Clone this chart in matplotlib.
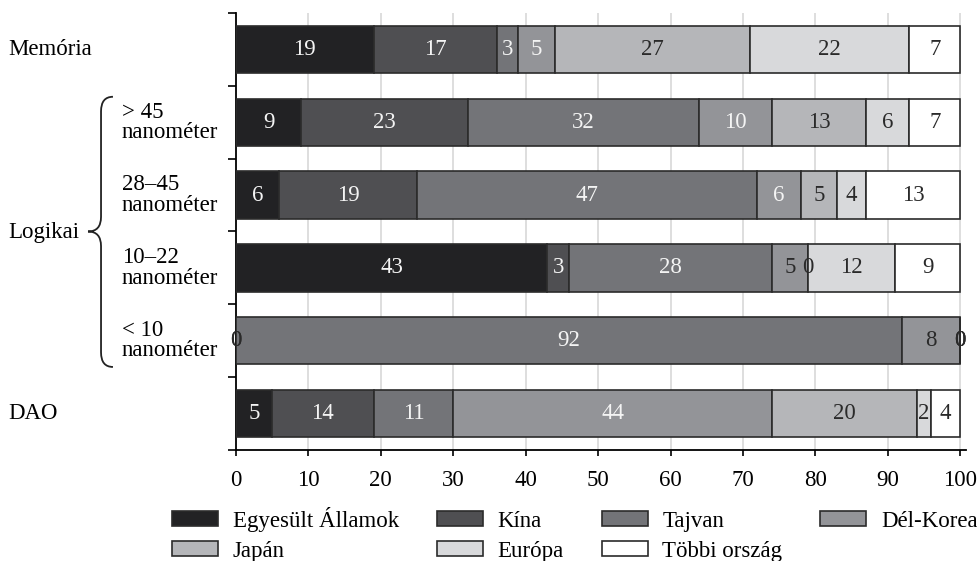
import matplotlib.pyplot as plt
import matplotlib.transforms as mtransforms
from matplotlib.path import Path
from matplotlib.patches import PathPatch

plt.rcParams['font.family'] = ['Liberation Serif', 'DejaVu Serif']
FS = 16.5

# Adatok: sorok (felülről lefelé) és országok szerinti részesedés (%)
rows = ['Memória', '> 45\nnanométer', '28–45\nnanométer', '10–22\nnanométer', '< 10\nnanométer', 'DAO']
countries = ['Egyesült Államok', 'Kína', 'Tajvan', 'Dél-Korea', 'Japán', 'Európa', 'Többi ország']
usa = [19, 9, 6, 43, 0, 5]
china = [17, 23, 19, 3, 0, 14]
taiwan = [3, 32, 47, 28, 92, 11]
korea = [5, 10, 6, 5, 8, 44]
japan = [27, 13, 5, 0, 0, 20]
europe = [22, 6, 4, 12, 0, 2]
other = [7, 7, 13, 9, 0, 4]
xticks = [0, 10, 20, 30, 40, 50, 60, 70, 80, 90, 100]

series = [usa, china, taiwan, korea, japan, europe, other]
colors = ['#222224', '#4f4f52', '#737478', '#939498', '#b5b6b9', '#d8d9db', '#ffffff']
txt_colors = ['#f4f4f4', '#f4f4f4', '#f4f4f4', '#f4f4f4', '#2a2a2a', '#2a2a2a', '#2a2a2a']

fig = plt.figure(figsize=(9.78, 5.61), dpi=100)
ax = fig.add_axes([0.2413, 0.1979, 0.7464, 0.7789])

ypos = list(range(len(rows)))
left = [0] * len(rows)
for k, vals in enumerate(series):
    ax.barh(ypos, vals, left=left, height=0.65, color=colors[k],
            edgecolor='#2b2b2b', linewidth=1.2, label=countries[k], zorder=3)
    for i, v in enumerate(vals):
        c = txt_colors[k]
        if v == 0 or (k == 3 and rows[i].startswith(('10', '<'))):
            c = '#2a2a2a'
        ax.text(left[i] + v / 2, i, str(v), ha='center', va='center',
                fontsize=FS, color=c, zorder=4)
    left = [a + b for a, b in zip(left, vals)]

ax.set_xlim(0, 100.8)
ax.set_ylim(len(rows) - 0.5, -0.5)
ax.set_xticks(xticks)
ax.set_xticklabels([str(t) for t in xticks], fontsize=FS)
ax.tick_params(axis='x', direction='out', length=4.5, width=1.2, pad=10)
ax.set_yticks([])
ax.set_yticks([i - 0.5 for i in range(len(rows) + 1)], minor=True)
ax.tick_params(axis='y', which='minor', direction='out', length=6, width=1.2)
for x in xticks[1:]:
    ax.axvline(x, color='#d4d4d4', linewidth=1.1, zorder=1)
for s in ['top', 'right']:
    ax.spines[s].set_visible(False)
for s in ['left', 'bottom']:
    ax.spines[s].set_linewidth(1.3)

# Sorcímkék
trans = mtransforms.blended_transform_factory(fig.transFigure, ax.transData)
for i, r in enumerate(rows):
    if '\n' in r:
        ax.text(0.1247, i, r, transform=trans, ha='left', va='center',
                fontsize=FS, linespacing=0.95, clip_on=False)
    else:
        ax.text(0.008, i, r, transform=trans, ha='left', va='center',
                fontsize=FS, clip_on=False)
ax.text(0.008, 2.52, 'Logikai', transform=trans, ha='left', va='center',
        fontsize=FS, clip_on=False)

# Kapcsos zárójel a logikai sorokhoz
tip, spine, point = 0.1155, 0.1033, 0.090
top, mid, bot, r = 0.65, 2.5, 4.36, 0.2
verts = [(tip, top), (spine, top), (spine, top + r),
         (spine, mid - r), (spine, mid), (point, mid),
         (spine, mid), (spine, mid + r),
         (spine, bot - r), (spine, bot), (tip, bot)]
codes = [Path.MOVETO, Path.CURVE3, Path.CURVE3,
         Path.LINETO, Path.CURVE3, Path.CURVE3,
         Path.CURVE3, Path.CURVE3,
         Path.LINETO, Path.CURVE3, Path.CURVE3]
ax.add_patch(PathPatch(Path(verts, codes), transform=trans, fill=False,
                       edgecolor='#222222', linewidth=1.3, clip_on=False))

# Jelmagyarázat: soronként olvasva
h, l = ax.get_legend_handles_labels()
order = [0, 4, 1, 5, 2, 6, 3]
fig.legend([h[i] for i in order], [l[i] for i in order], ncol=4,
           loc='upper left', bbox_to_anchor=(0.176, 0.097), frameon=False,
           fontsize=FS, handlelength=2.0, handleheight=0.62, handletextpad=0.65,
           columnspacing=1.65, labelspacing=0.4, borderpad=0, borderaxespad=0)

plt.savefig('out.png', dpi=100)
